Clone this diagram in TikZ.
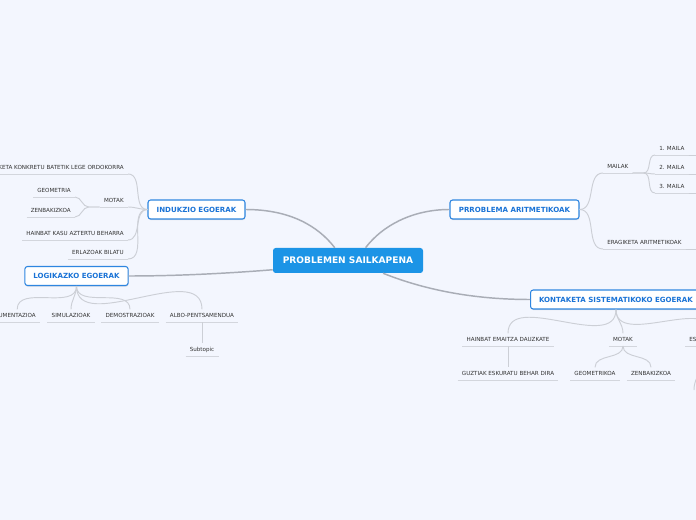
\documentclass[tikz,border=0pt]{standalone}
\usepackage{fontspec}
\setmainfont{DejaVu Sans}
\usetikzlibrary{shadows}

\definecolor{bg}{HTML}{F3F6FE}
\definecolor{rootblue}{HTML}{1C94E6}
\definecolor{topicblue}{HTML}{1A73D6}
\definecolor{topicedge}{HTML}{2E86E0}
\definecolor{txtgray}{HTML}{333333}
\definecolor{linkgray}{HTML}{A9ADB6}
\definecolor{twiggray}{HTML}{CCCFD6}
\definecolor{ulgray}{HTML}{D3D6DD}

\begin{document}
\begin{tikzpicture}[x=0.75pt, y=-0.75pt,
  every node/.style={font=\fontsize{4.2}{5}\selectfont, text=txtgray},
  root/.style={rectangle, rounded corners=2pt, fill=rootblue, text=white, font=\bfseries\fontsize{6.8}{8}\selectfont, minimum width=112.5pt, minimum height=18.75pt},
  topic/.style={rectangle, rounded corners=2pt, draw=topicedge, line width=0.8pt, fill=white, text=topicblue, font=\bfseries\fontsize{5.3}{6}\selectfont, minimum height=14.25pt, inner xsep=6.4pt, drop shadow={shadow xshift=0.3pt, shadow yshift=-0.9pt, opacity=0.25}},
  sub/.style={inner xsep=3pt, inner ysep=3pt, text height=3.1pt, text depth=0pt},
  link/.style={draw=linkgray, line width=1.1pt},
  twig/.style={draw=twiggray, line width=0.7pt},
  uline/.style={draw=ulgray, line width=0.7pt}]
  \useasboundingbox (0,0) rectangle (696,520);
  \fill[bg] (0,0) rectangle (696,520);
  \clip (0,0) rectangle (696,520);
  % Nodes
  \node[root] (root) at (348,260.5) {PROBLEMEN SAILKAPENA};
  \node[topic, minimum width=72.75pt] (induk) at (196.5,209.5) {INDUKZIO EGOERAK};
  \node[topic, minimum width=77.25pt] (logik) at (76.5,276) {LOGIKAZKO EGOERAK};
  \node[topic, minimum width=96.75pt] (arit) at (514.5,209.5) {PRROBLEMA ARITMETIKOAK};
  \node[topic, anchor=west] (konta) at (530,299.5) {KONTAKETA SISTEMATIKOKO EGOERAK};
  % INDUKZIO EGOERAK
  \node[sub, anchor=south east] (lege) at (128,174) {KETA KONKRETU BATETIK LEGE ORDOKORRA};
  \node[sub, anchor=south east] (imotak) at (128,207) {MOTAK};
  \node[sub, anchor=south east] (geom) at (75,197) {GEOMETRIA};
  \node[sub, anchor=south east] (zenb) at (75,217) {ZENBAKIZKOA};
  \node[sub, anchor=south east] (hainbat) at (128,240) {HAINBAT KASU AZTERTU BEHARRA};
  \node[sub, anchor=south east] (erlaz) at (128,259) {ERLAZOAK BILATU};
  % LOGIKAZKO EGOERAK
  \node[sub, anchor=south east] (argu) at (40,322) {UMENTAZIOA};
  \node[sub, anchor=south] (simul) at (71,322) {SIMULAZIOAK};
  \node[sub, anchor=south] (demos) at (130,322) {DEMOSTRAZIOAK};
  \node[sub, anchor=south] (albo) at (202,322) {ALBO-PENTSAMENDUA};
  \node[sub, anchor=south] (subt) at (202,356) {Subtopic};
  % PRROBLEMA ARITMETIKOAK
  \node[sub, anchor=south west] (mailak) at (603,173) {MAILAK};
  \node[sub, anchor=south west] (m1) at (655,155) {1. MAILA};
  \node[sub, anchor=south west] (m2) at (655,174) {2. MAILA};
  \node[sub, anchor=south west] (m3) at (655,193) {3. MAILA};
  \node[sub, anchor=south west] (erag) at (603,249) {ERAGIKETA ARITMETIKOAK};
  % KONTAKETA SISTEMATIKOKO EGOERAK
  \node[sub, anchor=south] (khain) at (508,346) {HAINBAT EMAITZA DAUZKATE};
  \node[sub, anchor=south] (guzt) at (508,380) {GUZTIAK ESKURATU BEHAR DIRA};
  \node[sub, anchor=south] (kmotak) at (623,346) {MOTAK};
  \node[sub, anchor=south] (kgeo) at (595,380) {GEOMETRIKOA};
  \node[sub, anchor=south] (kzenb) at (651,380) {ZENBAKIZKOA};
  \node[sub, anchor=south west, text width=34pt, align=left] (es) at (685,346) {ES};
  \coordinate (m1out) at (720,155);
  \coordinate (m2out) at (720,174);
  \coordinate (m3out) at (720,193);
  \coordinate (eragout) at (720,249);
  \coordinate (eskid) at (694,390);
  % Underlines
  \foreach \n in {lege,imotak,geom,zenb,hainbat,erlaz,argu,simul,demos,albo,subt,mailak,m1,m2,m3,erag,khain,guzt,kmotak,kgeo,kzenb,es}
    \draw[uline] (\n.south west) -- (\n.south east);
  % Edges
  \draw[link] (root.136) .. controls (318,226) and (290,209.5) .. (induk.east);
  \draw[link] (root.36) .. controls (382,226) and (412,209.5) .. (arit.west);
  \draw[link] (root.187) .. controls (220,274) and (170,276) .. (logik.east);
  \draw[link] (root.-20) .. controls (430,292) and (480,299.5) .. (konta.west);
  \foreach \n in {lege,imotak,hainbat,erlaz}
    \draw[twig] (induk.west) to[out=180, in=0] (\n.south east);
  \draw[twig] (imotak.south west) -- ++(-11,0) to[out=180, in=0] (geom.south east);
  \draw[twig] (imotak.south west) -- ++(-11,0) to[out=180, in=0] (zenb.south east);
  \foreach \n in {argu,simul,demos,albo}
    \draw[twig] (logik.south) to[out=-90, in=90] (\n.north);
  \draw[twig] (albo.south) -- (subt.north);
  \draw[twig] (arit.east) to[out=0, in=180] (mailak.south west);
  \draw[twig] (arit.east) to[out=0, in=180] (erag.south west);
  \foreach \n in {m1,m2,m3}
    \draw[twig] (mailak.south east) -- ++(11,0) to[out=0, in=180] (\n.south west);
  \draw[twig] (m1.south east) -- (m1out);
  \draw[twig] (m2.south east) -- (m2out);
  \draw[twig] (m3.south east) -- (m3out);
  \draw[twig] (erag.south east) -- (eragout);
  \foreach \n in {khain,kmotak,es}
    \draw[twig] (konta.south) to[out=-90, in=90] (\n.north);
  \draw[twig] (khain.south) -- (guzt.north);
  \draw[twig] (kmotak.south) to[out=-90, in=90] (kgeo.north);
  \draw[twig] (kmotak.south) to[out=-90, in=90] (kzenb.north);
  \draw[twig] (es.south) to[out=-90, in=90] (eskid);
\end{tikzpicture}
\end{document}
